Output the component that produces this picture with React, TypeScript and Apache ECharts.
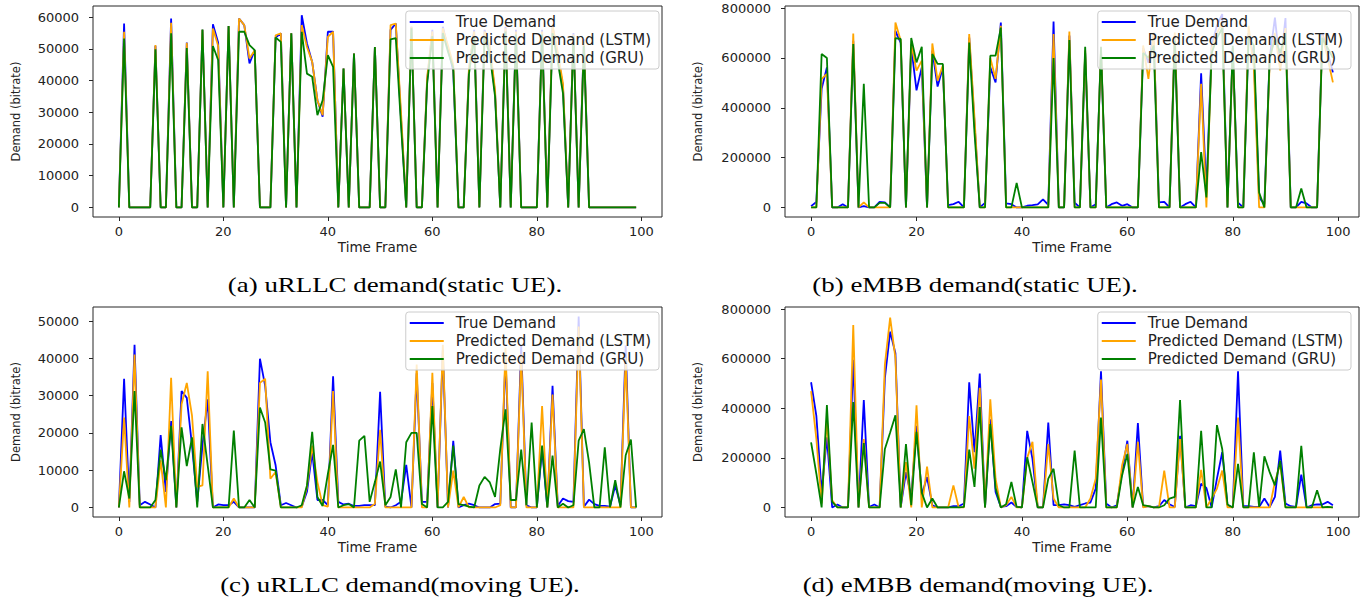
import React, { useEffect, useRef } from "react";
import * as echarts from "echarts";

// Time frames 0..99
const timeFrames: number[] = Array.from({ length: 100 }, (_, i) => i);

const seriesNames = ["True Demand", "Predicted Demand (LSTM)", "Predicted Demand (GRU)"];
const seriesColors = ["#0000ff", "#ffa500", "#008000"];

const xTicks = [0, 20, 40, 60, 80, 100];
const yTicksUrllcStatic = [0, 10000, 20000, 30000, 40000, 50000, 60000];
const yTicksUrllcMoving = [0, 10000, 20000, 30000, 40000, 50000];
const yTicksEmbb = [0, 200000, 400000, 600000, 800000];

const captions = [
  "(a) uRLLC demand(static UE).",
  "(b) eMBB demand(static UE).",
  "(c) uRLLC demand(moving UE).",
  "(d) eMBB demand(moving UE).",
];

// (a) uRLLC static
const aTrue = [0,58000,0,0,0,0,0,51000,0,0,
59600,0,0,52000,0,0,56000,0,57800,52000,
0,57200,0,59600,57500,45400,49600,0,0,0,
53600,54900,0,54900,0,60600,51700,45900,33800,28600,
55400,55400,0,43800,0,48500,0,0,0,50600,
0,0,56000,58000,28000,0,57000,0,0,40000,
56000,0,57000,50000,43000,0,0,43000,56000,0,
56000,50000,36000,0,57000,0,56000,0,0,0,
0,56000,0,57000,48000,38000,0,55000,0,53000,
0,0,0,0,0,0,0,0,0,0];
const aLstm = [0,55400,0,0,0,0,0,51200,0,0,
58200,0,0,51900,0,0,56000,0,56400,51000,
0,57200,0,59600,57500,47000,49600,0,0,0,
54300,54900,0,54900,0,57500,50600,45900,33800,29100,
53800,55400,0,43800,0,48500,0,0,0,50600,
0,0,57500,58000,30000,0,57000,0,0,41000,
55500,0,56500,51000,45000,0,0,44000,55500,0,
55500,51000,37000,0,56500,0,55500,0,0,0,
0,55500,0,57500,49000,39000,0,54500,0,52500,
0,0,0,0,0,0,0,0,0,0];
const aGru = [0,53300,0,0,0,0,0,49900,0,0,
54900,0,0,50300,0,0,56100,0,50900,46500,
0,57200,0,55400,55400,51200,49600,0,0,0,
53600,52200,0,54900,0,55400,42200,41200,29100,33800,
48000,44300,0,43800,0,48500,0,0,0,50600,
0,0,53000,53400,26000,0,56500,0,0,39000,
54000,0,55000,49000,44000,0,0,42000,54000,0,
54000,48000,35000,0,55500,0,54500,0,0,0,
0,54500,0,55000,46000,36000,0,54000,0,51000,
0,0,0,0,0,0,0,0,0,0];

// (b) eMBB static
const bTrue = [5000,22000,476000,562000,0,0,13000,0,669000,0,
5000,0,0,22000,20000,0,709000,660000,0,643000,
470000,562000,0,629000,485000,562000,9000,13000,22600,0,
682000,340000,0,18000,562000,502000,742000,16000,13000,0,
0,6600,9000,12000,32000,10000,746000,0,0,690000,
18600,0,620000,0,13000,630000,0,13000,20000,6600,
13000,0,0,640000,580000,690000,20000,22600,0,690000,
0,13000,22600,0,538000,60000,650000,730000,776000,0,
640000,18600,0,700000,600000,40000,13000,600000,762000,560000,
760000,0,0,22600,16000,0,0,700000,620000,542000];
const bLstm = [0,0,516000,536000,0,0,0,0,698000,0,
20000,0,0,0,0,0,742000,670000,0,656000,
549000,589000,0,658000,509000,570000,0,0,0,0,
696000,360000,0,0,600000,516000,729000,0,0,0,
0,0,0,0,0,0,696000,0,0,706000,
0,0,630000,0,0,640000,0,0,0,0,
0,0,0,650000,516000,702000,0,0,0,702000,
0,0,0,0,496000,0,640000,700000,740000,0,
640000,0,0,729000,560000,0,0,580000,700000,550000,
720000,0,0,0,0,0,0,690000,600000,502000];
const bGru = [0,0,616000,600000,0,0,0,0,656000,0,
496000,0,0,18000,18000,0,680000,676000,0,680000,
582000,645000,0,616000,576000,576000,0,0,0,0,
662000,300000,0,0,609000,609000,722000,0,0,98600,
0,0,0,0,0,0,600000,0,0,672000,
0,0,645000,0,0,645000,0,0,0,0,
0,0,0,620000,600000,650000,0,0,0,669000,
0,0,0,0,222000,40000,620000,680000,720000,0,
649000,0,0,682000,650000,60000,0,600000,680000,620000,
700000,0,0,76000,0,0,0,680000,640000,600000];

// (c) uRLLC moving
const cTrue = [0,34500,1500,43600,600,1500,800,0,19400,4200,
23200,0,31200,29400,16600,1500,16600,29000,0,800,
600,600,1500,0,0,0,0,39900,32600,17500,
11300,600,1200,600,0,200,4200,14800,2000,2000,
600,35200,1500,800,1000,400,400,600,600,600,
31000,200,0,600,1500,11400,0,36000,1500,1500,
33400,0,42300,0,17900,0,600,1000,600,0,
0,0,900,1000,40500,0,0,43600,600,0,
0,15700,0,32600,400,2400,1700,1500,51200,200,
2100,900,400,400,200,5900,600,43400,0,0];
const cLstm = [0,24100,0,41000,0,0,0,0,12600,0,
34800,0,27700,33400,24600,5500,5900,36500,0,0,
0,0,2400,0,0,0,0,33400,34500,7700,
9500,0,0,0,0,0,5500,16600,6800,600,
200,31200,0,0,0,0,0,0,0,1000,
20800,0,0,0,0,0,0,38300,0,0,
36100,0,43600,0,9900,0,2800,0,0,0,
0,0,0,600,42800,0,0,41000,0,0,
0,27200,0,30300,0,0,0,0,48500,0,
0,0,0,0,0,0,0,40100,0,0];
const cGru = [0,9700,2400,31200,0,0,0,2000,15500,7300,
21900,0,21500,11100,18800,0,22400,11300,0,0,
0,0,20600,0,0,2000,0,26800,22800,10200,
9900,0,0,0,0,600,5900,20300,2800,400,
9000,16800,0,600,900,0,17900,19200,1500,6800,
12300,600,2800,10200,0,17500,20000,20000,900,0,
27200,0,0,1500,16600,900,600,200,0,5900,
8200,6700,2800,15700,26300,2000,2000,15500,600,22800,
0,16600,0,13900,0,1000,0,600,17900,21000,
12000,0,0,16100,0,7300,0,14000,18200,0];

// (d) eMBB moving
const dTrue = [505000,369000,62700,283000,0,12000,0,0,596000,0,
433000,2000,12000,0,522000,709000,622000,0,142600,42600,
329000,50000,122600,9000,0,0,0,5000,5000,16000,
505000,222600,540000,0,356000,62700,2000,5000,20000,2000,
0,309000,196000,0,0,342600,9000,9000,12000,9000,
2000,9000,16000,20000,76000,549000,16000,0,9000,142600,
269000,0,340000,2000,5000,0,5000,30000,13000,2000,
289000,0,9000,5000,96000,78600,0,116000,222600,9000,
0,549000,5000,5000,2000,2000,36000,2000,42600,229000,
16000,5000,2000,132000,0,9000,12000,12000,22600,9000];
const dLstm = [469000,276000,16000,356000,29000,0,0,0,736000,0,
276000,0,0,0,576000,766000,602500,0,182600,0,
412000,0,165000,0,0,0,0,89000,0,0,
369000,156000,482600,0,436000,116000,0,9000,42600,0,
0,200000,265000,0,0,256000,36000,0,0,0,
0,0,0,36000,116000,516000,0,0,0,169000,
256000,0,265000,0,5000,0,0,149000,0,0,
276000,0,0,0,152000,0,36000,76000,149000,0,
0,362600,0,0,0,0,0,0,102600,176000,
0,0,0,0,0,0,0,0,0,0];
const dGru = [262600,136000,0,413000,22600,0,0,0,425000,0,
260000,0,0,0,236000,302600,372000,0,256000,9000,
305000,60000,0,36000,0,0,0,0,0,2000,
233000,82600,405000,0,336000,78600,0,13300,102600,2000,
0,202600,102600,0,0,116000,156000,9000,0,0,
229000,0,0,0,0,362600,0,0,0,129000,
216000,0,82600,9000,5000,0,0,9000,36000,42600,
433000,0,0,0,309000,0,0,332000,236000,12000,
0,176000,0,0,222600,2000,206600,142600,89000,189000,
0,0,0,249000,0,0,69000,0,2000,0];

const panelData = [
  [aTrue, aLstm, aGru],
  [bTrue, bLstm, bGru],
  [cTrue, cLstm, cGru],
  [dTrue, dLstm, dGru],
];

const FRAME = "#262626";
const TXT = "#222222";
const SANS = "DejaVu Sans";

export default function App() {
  const ref = useRef<HTMLDivElement>(null);

  useEffect(() => {
    if (!ref.current) return;
    const chart = echarts.init(ref.current, undefined, { renderer: "svg" });

    const grids = [
      { left: 93, top: 6, width: 569, height: 211 },
      { left: 785, top: 6, width: 574, height: 211 },
      { left: 93, top: 307, width: 569, height: 210 },
      { left: 785, top: 307, width: 574, height: 210 },
    ].map((g) => ({ ...g, show: true, borderColor: FRAME, borderWidth: 1, backgroundColor: "#fff" }));

    const yRanges = [
      { min: -3030, max: 63530, ticks: yTicksUrllcStatic },
      { min: -38500, max: 808500, ticks: yTicksEmbb },
      { min: -2560, max: 53760, ticks: yTicksUrllcMoving },
      { min: -38500, max: 808500, ticks: yTicksEmbb },
    ];
    const yNameGaps = [71, 81, 71, 81];

    const xAxis = grids.map((_, k) => ({
      type: "value",
      gridIndex: k,
      position: "bottom",
      min: -4.95,
      max: 103.95,
      name: "Time Frame",
      nameLocation: "middle",
      nameGap: 23,
      nameTextStyle: { fontFamily: SANS, fontSize: 13.5, color: TXT },
      axisLine: { show: false, onZero: false },
      splitLine: { show: false },
      axisTick: { show: true, length: 4, inside: false, customValues: xTicks, lineStyle: { color: FRAME } },
      axisLabel: {
        customValues: xTicks,
        fontFamily: SANS,
        fontSize: 13,
        color: TXT,
        margin: 8,
        formatter: (v: number) => String(v),
      },
    }));

    const yAxis = grids.map((_, k) => ({
      type: "value",
      gridIndex: k,
      position: "left",
      min: yRanges[k].min,
      max: yRanges[k].max,
      name: "Demand (bitrate)",
      nameLocation: "middle",
      nameGap: yNameGaps[k],
      nameTextStyle: { fontFamily: SANS, fontSize: 11.5, color: TXT },
      axisLine: { show: false, onZero: false },
      splitLine: { show: false },
      axisTick: { show: true, length: 4, inside: false, customValues: yRanges[k].ticks, lineStyle: { color: FRAME } },
      axisLabel: {
        customValues: yRanges[k].ticks,
        fontFamily: SANS,
        fontSize: 13,
        color: TXT,
        margin: 14,
        formatter: (v: number) => String(v),
      },
    }));

    const series: any[] = [];
    panelData.forEach((arrs, k) => {
      arrs.forEach((vals, s) => {
        series.push({
          type: "line",
          name: seriesNames[s],
          xAxisIndex: k,
          yAxisIndex: k,
          data: timeFrames.map((t, i) => [t, vals[i]]),
          showSymbol: false,
          symbol: "none",
          color: seriesColors[s],
          lineStyle: { width: 1.8, color: seriesColors[s] },
          emphasis: { disabled: true },
          z: 2 + s,
        });
      });
    });

    const legendPos = [
      { right: 710, top: 11 },
      { right: 18, top: 11 },
      { right: 710, top: 312 },
      { right: 18, top: 312 },
    ];
    const legend = legendPos.map((p) => ({
      ...p,
      orient: "vertical",
      data: seriesNames,
      icon: "rect",
      itemWidth: 34,
      itemHeight: 2,
      itemGap: 2,
      padding: [3, 8, 3, 4],
      backgroundColor: "rgba(255,255,255,0.8)",
      borderColor: "#cccccc",
      borderWidth: 1,
      borderRadius: 3,
      selectedMode: false,
      textStyle: { fontFamily: SANS, fontSize: 15, color: TXT, lineHeight: 16, padding: [0, 0, 0, 7] },
      z: 10,
    }));

    const capPos = [
      [395, 285],
      [975, 285],
      [400, 585],
      [978, 585],
    ];
    const graphic = captions.map((c, k) => ({
      type: "text",
      x: capPos[k][0],
      y: capPos[k][1],
      scaleX: 1.28,
      style: {
        text: c,
        fontFamily: "Liberation Serif",
        fontSize: 21,
        fill: "#000",
        textAlign: "center",
        textVerticalAlign: "middle",
      },
    }));

    chart.setOption({
      animation: false,
      backgroundColor: "#ffffff",
      grid: grids,
      xAxis,
      yAxis,
      legend,
      series,
      graphic,
    });

    return () => chart.dispose();
  }, []);

  return (
    <div
      ref={ref}
      style={{ position: "fixed", left: 0, top: 0, width: 1369, height: 603 }}
    />
  );
}
